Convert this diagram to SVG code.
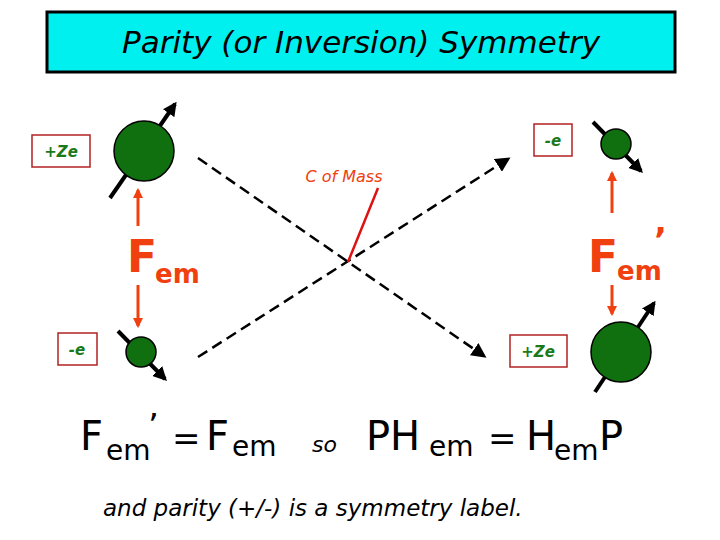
<svg xmlns="http://www.w3.org/2000/svg" width="720" height="540" viewBox="0 0 720 540">
<style>
.lab{font-family:"DejaVu Sans",sans-serif;font-style:italic;font-weight:bold;font-size:15px;fill:#1a7a1a}
.box{fill:#fff;stroke:#b22222;stroke-width:1.5}
.ball{fill:#107010;stroke:#000;stroke-width:1.5}
.spin{stroke:#000;stroke-width:4;marker-end:url(#ah)}
.dash{stroke:#000;stroke-width:2.5;stroke-dasharray:11,6;fill:none}
.force{stroke:#f04010;stroke-width:3;marker-end:url(#oh)}
.fem{font-family:"DejaVu Sans",sans-serif;font-weight:bold;fill:#f04010}
.eq{font-family:"DejaVu Sans",sans-serif;fill:#000}
</style>
<defs>
<marker id="ah" viewBox="0 0 10 10" refX="8" refY="5" markerWidth="3.5" markerHeight="3.5" orient="auto"><path d="M0,0L10,5L0,10z" fill="#000"/></marker>
<marker id="oh" viewBox="0 0 10 10" refX="8" refY="5" markerWidth="3.5" markerHeight="3.5" orient="auto"><path d="M0,0L10,5L0,10z" fill="#f04010"/></marker>
<marker id="dh" viewBox="0 0 10 10" refX="8" refY="5" markerWidth="6" markerHeight="6" orient="auto"><path d="M0,0L10,5L0,10z" fill="#000"/></marker>
</defs>
<rect x="0" y="0" width="720" height="540" fill="#fff"/>
<g id="title">
<rect x="47" y="12" width="628" height="60" fill="#00f0f0" stroke="#000" stroke-width="3"/>
<text x="361" y="53" text-anchor="middle" font-family="DejaVu Sans,sans-serif" font-style="italic" font-size="31" fill="#000">Parity (or Inversion) Symmetry</text>
</g>
<g id="connectors">
<path class="dash" d="M198,158L484,356" marker-end="url(#dh)"/>
<path class="dash" d="M198,357L508,159" marker-end="url(#dh)"/>
<line x1="378" y1="188" x2="348" y2="262" stroke="#e01010" stroke-width="2.5"/>
<line class="force" x1="138" y1="226" x2="138" y2="190"/>
<line class="force" x1="138" y1="285" x2="138" y2="326"/>
<line class="force" x1="612" y1="213" x2="612" y2="173"/>
<line class="force" x1="612" y1="285" x2="612" y2="314"/>
</g>
<g id="nucleus-left">
<line class="spin" x1="110" y1="198" x2="175" y2="104"/>
<circle class="ball" cx="144" cy="151" r="30"/>
<rect class="box" x="32" y="135" width="58" height="32"/>
<text class="lab" x="61" y="157" text-anchor="middle">+Ze</text>
</g>
<g id="electron-left">
<line class="spin" x1="118" y1="331" x2="165" y2="379"/>
<circle class="ball" cx="141" cy="352" r="15"/>
<rect class="box" x="58" y="333" width="39" height="32"/>
<text class="lab" x="77" y="355" text-anchor="middle">-e</text>
</g>
<g id="electron-right">
<line class="spin" x1="593" y1="122" x2="641" y2="171"/>
<circle class="ball" cx="616" cy="144" r="15"/>
<rect class="box" x="534" y="124" width="38" height="32"/>
<text class="lab" x="553" y="146" text-anchor="middle">-e</text>
</g>
<g id="nucleus-right">
<line class="spin" x1="595" y1="392" x2="654" y2="303"/>
<circle class="ball" cx="621" cy="352" r="30"/>
<rect class="box" x="510" y="335" width="57" height="32"/>
<text class="lab" x="538" y="357" text-anchor="middle">+Ze</text>
</g>
<g id="com-label">
<text x="344" y="182" text-anchor="middle" font-family="DejaVu Sans,sans-serif" font-style="italic" font-size="16" fill="#f04010">C of Mass</text>
</g>
<g id="fem-left">
<text class="fem" x="127" y="272" font-size="44">F</text>
<text class="fem" x="155" y="283" font-size="26">em</text>
</g>
<g id="fem-right">
<text class="fem" x="588" y="272" font-size="44">F</text>
<text class="fem" x="617" y="280" font-size="26">em</text>
<text class="fem" x="654" y="252" font-size="34">’</text>
</g>
<g id="equation" class="eq">
<text x="80" y="450" font-size="40">F</text>
<text x="106" y="460" font-size="28">em</text>
<text x="148" y="438" font-size="34">’</text>
<text x="172" y="450" font-size="34">=</text>
<text x="206" y="450" font-size="40">F</text>
<text x="232" y="456" font-size="28">em</text>
<text x="312" y="452" font-size="22" font-style="italic">so</text>
<text x="366" y="450" font-size="40">PH</text>
<text x="429" y="456" font-size="28">em</text>
<text x="488" y="450" font-size="34">=</text>
<text x="526" y="450" font-size="40">H</text>
<text x="554" y="460" font-size="28">em</text>
<text x="599" y="450" font-size="40">P</text>
<text x="103" y="516" font-size="23" font-style="italic">and parity (+/-) is a symmetry label.</text>
</g>
</svg>
